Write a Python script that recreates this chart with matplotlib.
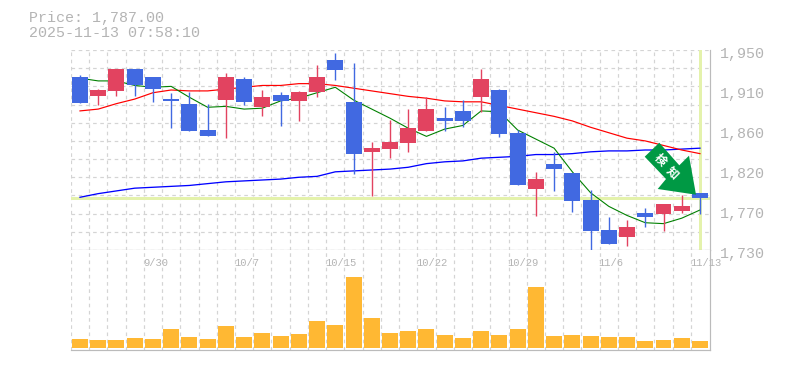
from matplotlib.patches import Polygon
from matplotlib.transforms import IdentityTransform
import matplotlib.pyplot as plt
import numpy as np

# Candles (yen), oldest first
opens = [1920, 1899, 1905, 1929, 1920, 1896, 1891, 1862, 1895, 1918, 1887, 1900, 1894, 1904, 1939, 1893, 1838, 1841,
         1848, 1861, 1875, 1883, 1898, 1906, 1859, 1797, 1825, 1815, 1785, 1752, 1744, 1771, 1770, 1773, 1793]
closes = [1892, 1906, 1929, 1911, 1907, 1894, 1861, 1855, 1920, 1893, 1898, 1894, 1904, 1920, 1928, 1836, 1842, 1849,
          1864, 1885, 1872, 1872, 1918, 1858, 1801, 1808, 1819, 1784, 1751, 1737, 1755, 1766, 1781, 1778, 1787]
highs = [1922, 1907, 1929, 1929, 1920, 1903, 1904, 1891, 1925, 1920, 1906, 1904, 1905, 1934, 1947, 1936, 1849, 1873,
         1885, 1898, 1887, 1895, 1929, 1907, 1862, 1816, 1838, 1815, 1796, 1766, 1763, 1776, 1781, 1791, 1793]
lows = [1892, 1889, 1899, 1899, 1893, 1864, 1861, 1855, 1853, 1889, 1877, 1866, 1872, 1898, 1917, 1814, 1789, 1831,
        1838, 1861, 1861, 1865, 1882, 1854, 1801, 1767, 1795, 1772, 1730, 1737, 1734, 1755, 1751, 1771, 1770]

# Moving averages
ma_short = [1919, 1916, 1916, 1911, 1909, 1910, 1898, 1887, 1888, 1885, 1886, 1894, 1897, 1903, 1909, 1895, 1885, 1875,
            1864, 1855, 1863, 1867, 1883, 1882, 1862, 1852, 1842, 1816, 1793, 1778, 1768, 1760, 1759, 1765, 1774]
ma_mid = [1883, 1885, 1891, 1896, 1903, 1906, 1905, 1905, 1907, 1909, 1911, 1911, 1913, 1913, 1911, 1908, 1905, 1902,
          1899, 1897, 1894, 1893, 1893, 1889, 1885, 1881, 1877, 1872, 1865, 1859, 1853, 1850, 1845, 1840, 1836]
ma_long = [1788, 1792, 1795, 1798, 1799, 1800, 1801, 1803, 1805, 1806, 1807, 1808, 1810, 1811, 1816, 1817, 1818, 1819,
           1821, 1825, 1827, 1828, 1831, 1832, 1833, 1835, 1835, 1836, 1838, 1839, 1839, 1840, 1840, 1841, 1842]

# Volume, arbitrary units since the chart has no volume scale
volume = [9, 8, 8, 10, 9, 19, 11, 9, 22, 11, 15, 12, 14, 27, 23, 71, 30, 15,
          17, 19, 13, 10, 17, 13, 19, 61, 12, 13, 12, 11, 11, 7, 8, 10, 7]

price_now = 1787
date_pos = [4, 9, 14, 19, 24, 29, 34]
date_labels = ['9/30', '10/7', '10/15', '10/22', '10/29', '11/6', '11/13']
price_ticks = [1950, 1906, 1862, 1818, 1774, 1730]
price_labels = ['1,950', '1,910', '1,860', '1,820', '1,770', '1,730']

W, H = 785, 370
PX = 72 / 100  # one pixel in points
GREY = '#b4b4b4'
GRID = '#d4d4d4'
UP = '#e24360'
DOWN = '#4169e1'
MONO = 'Liberation Mono'


# axes rectangle from pixel edges of the reference
def rect(left, top, right, bottom):
    return [left / W, 1 - bottom / H, (right - left) / W, (bottom - top) / H]


fig = plt.figure(figsize=(W / 100, H / 100), dpi=100)
ax = fig.add_axes(rect(70.5, 50, 710, 250))
vol = fig.add_axes(rect(70.5, 250, 710, 350))

x = np.arange(len(opens))
for a in (ax, vol):
    a.set_xlim(-0.52, 34.55)
    a.set_xticks(x - 0.5)
    a.tick_params(length=0, labelbottom=False, labelleft=False, which='both')
    a.grid(axis='x', color=GRID, lw=1.2 * PX, ls=(0, (3, 3)))
    a.set_axisbelow(True)
    for side in ('top', 'left'):
        a.spines[side].set_visible(False)
    for side in ('right', 'bottom'):
        a.spines[side].set_color('#bbbbbb')
        a.spines[side].set_linewidth(1.2 * PX)

# Price panel
ax.set_ylim(1730, 1950)
ax.set_yticks(np.arange(1730, 1951, 20))
ax.set_yticklabels([])
ax.grid(axis='y', color=GRID, lw=1.2 * PX, ls=(0, (3, 3)))

ax.axhline(price_now, color='#e4f2ac', lw=3 * PX, zorder=1.5)
ax.axvline(x[-1], color='#e4f2ac', lw=3 * PX, zorder=1.5)

ax.plot(x, ma_long, color='#0000ff', lw=1.3 * PX, zorder=2)
ax.plot(x, ma_mid, color='#ff0000', lw=1.2 * PX, zorder=2)
ax.plot(x, ma_short, color='#008000', lw=1.1 * PX, zorder=2)

colours = [UP if c > o else DOWN for o, c in zip(opens, closes)]
bottoms = [min(o, c) for o, c in zip(opens, closes)]
heights = [abs(c - o) for o, c in zip(opens, closes)]
ax.vlines(x, lows, highs, colors=colours, lw=1.4 * PX, zorder=3)
ax.bar(x, heights, bottom=bottoms, width=0.877, color=colours, zorder=3)

for pos, lab in zip(price_ticks, price_labels):
    ax.annotate(lab, (1, pos), xycoords=('axes fraction', 'data'), xytext=(7.2, -2.8),
                textcoords='offset points', va='center', ha='left',
                color=GREY, fontsize=10.8, family=MONO, annotation_clip=False)

# Volume panel
vol.set_ylim(-2, 98)
vol.set_yticks([])
vol.bar(x, volume, width=0.877, color='#ffb833', zorder=3)
for i, lab in zip(date_pos, date_labels):
    vol.annotate(lab, (i - 0.5, 1), xycoords=('data', 'axes fraction'), xytext=(-0.7, -9.2),
                 textcoords='offset points', va='center', ha='left',
                 color=GREY, fontsize=7.6, family=MONO, annotation_clip=False, zorder=5)

fig.text(29 / W, 1 - 18 / H, 'Price: 1,787.00', color=GREY, fontsize=10.8, family=MONO, va='center')
fig.text(29 / W, 1 - 33 / H, '2025-11-13 07:58:10', color=GREY, fontsize=10.8, family=MONO, va='center')

# Signal arrow, pixel outline of the badge
arrow_px = [(659.3, 142.7), (644.7, 156.7), (666, 179), (657.7, 189), (696, 194.7), (689, 155.7), (679.3, 165.3)]
fig.add_artist(Polygon([(px, H - py) for px, py in arrow_px], closed=True, facecolor='#009944',
                       edgecolor='none', transform=IdentityTransform(), zorder=6))
for ch, cx, cy in [('検', 660, 159.7), ('知', 672.3, 172.3)]:
    fig.text(cx / W, 1 - cy / H, ch, color='white', fontsize=8.5, fontweight='bold', rotation=-45,
             rotation_mode='anchor', ha='center', va='center', family=['Noto Sans CJK JP', 'DejaVu Sans'], zorder=7)

fig.savefig('out.png', dpi=100)
